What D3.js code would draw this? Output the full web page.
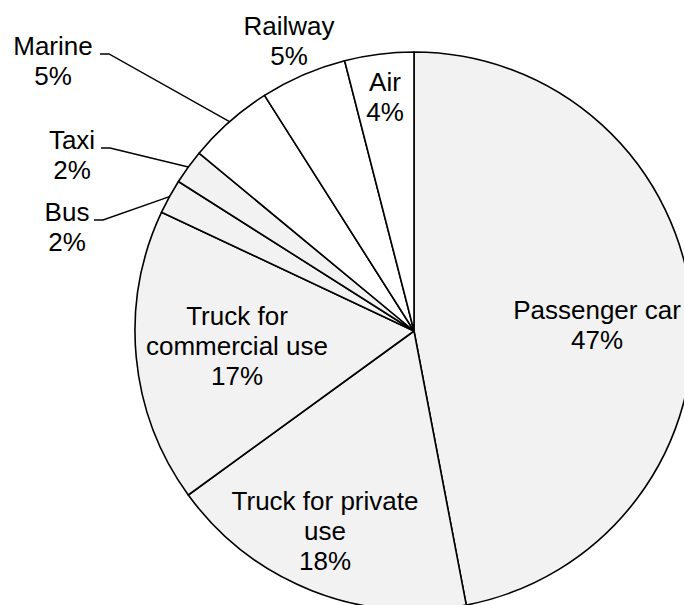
<!DOCTYPE html>
<html>
<head>
<meta charset="utf-8">
<script src="https://cdn.jsdelivr.net/npm/d3@7"></script>
<style>
  html, body { margin: 0; padding: 0; background: #ffffff; }
  svg { display: block; }
  text { font-family: "Liberation Sans", Arial, sans-serif; font-size: 26px; fill: #000; }
</style>
</head>
<body>
<script>
// Share of transport modes, clockwise from 12 o'clock
const categories = ["Passenger car", "Truck for private use", "Truck for commercial use", "Bus", "Taxi", "Marine", "Railway", "Air"];
const shares = [47, 18, 17, 2, 2, 5, 5, 4];
const labelLines = [
  ["Passenger car"],
  ["Truck for private", "use"],
  ["Truck for", "commercial use"],
  ["Bus"],
  ["Taxi"],
  ["Marine"],
  ["Railway"],
  ["Air"]
];
const fills = ["#f2f2f2", "#f2f2f2", "#f2f2f2", "#f2f2f2", "#f2f2f2", "#ffffff", "#ffffff", "#ffffff"];

// Label placement: centre x and first baseline y, plus leader elbow for outside labels
const labelLayout = [
  { x: 597, y: 319 },
  { x: 325, y: 510 },
  { x: 237, y: 325 },
  { x: 67,  y: 221, leader: [[94, 220], [103, 220]] },
  { x: 72,  y: 149, leader: [[101, 148], [110, 148]] },
  { x: 53,  y: 55,  leader: [[100, 54], [109, 54]] },
  { x: 289, y: 35 },
  { x: 385, y: 91 }
];

const width = 684, height = 605;
const cx = 414, cy = 331, radius = 279;
const lineGap = 30;

const svg = d3.select("body").append("svg")
  .attr("width", width)
  .attr("height", height);

const pie = d3.pie().sort(null).value(d => d).startAngle(0).endAngle(2 * Math.PI);
const arcs = pie(shares);
const arc = d3.arc().innerRadius(0).outerRadius(radius);

const g = svg.append("g").attr("transform", `translate(${cx},${cy})`);

g.selectAll("path.slice")
  .data(arcs)
  .join("path")
  .attr("class", "slice")
  .attr("d", arc)
  .attr("fill", (d, i) => fills[i])
  .attr("stroke", "#000")
  .attr("stroke-width", 1.6)
  .attr("stroke-linejoin", "round");

// Leader lines from the outer edge at each slice's mid-angle
arcs.forEach((a, i) => {
  const lay = labelLayout[i];
  if (!lay.leader) return;
  const mid = (a.startAngle + a.endAngle) / 2;
  const ex = cx + Math.sin(mid) * radius;
  const ey = cy - Math.cos(mid) * radius;
  const pts = lay.leader.concat([[ex, ey]]);
  svg.append("path")
    .attr("d", d3.line()(pts))
    .attr("fill", "none")
    .attr("stroke", "#000")
    .attr("stroke-width", 1.4);
});

// Labels: category name lines followed by the share
arcs.forEach((a, i) => {
  const lay = labelLayout[i];
  const lines = labelLines[i].concat([shares[i] + "%"]);
  const t = svg.append("text")
    .attr("text-anchor", "middle")
    .attr("x", lay.x)
    .attr("y", lay.y);
  lines.forEach((s, k) => {
    t.append("tspan")
      .attr("x", lay.x)
      .attr("y", lay.y + k * lineGap)
      .text(s);
  });
});
</script>
</body>
</html>
